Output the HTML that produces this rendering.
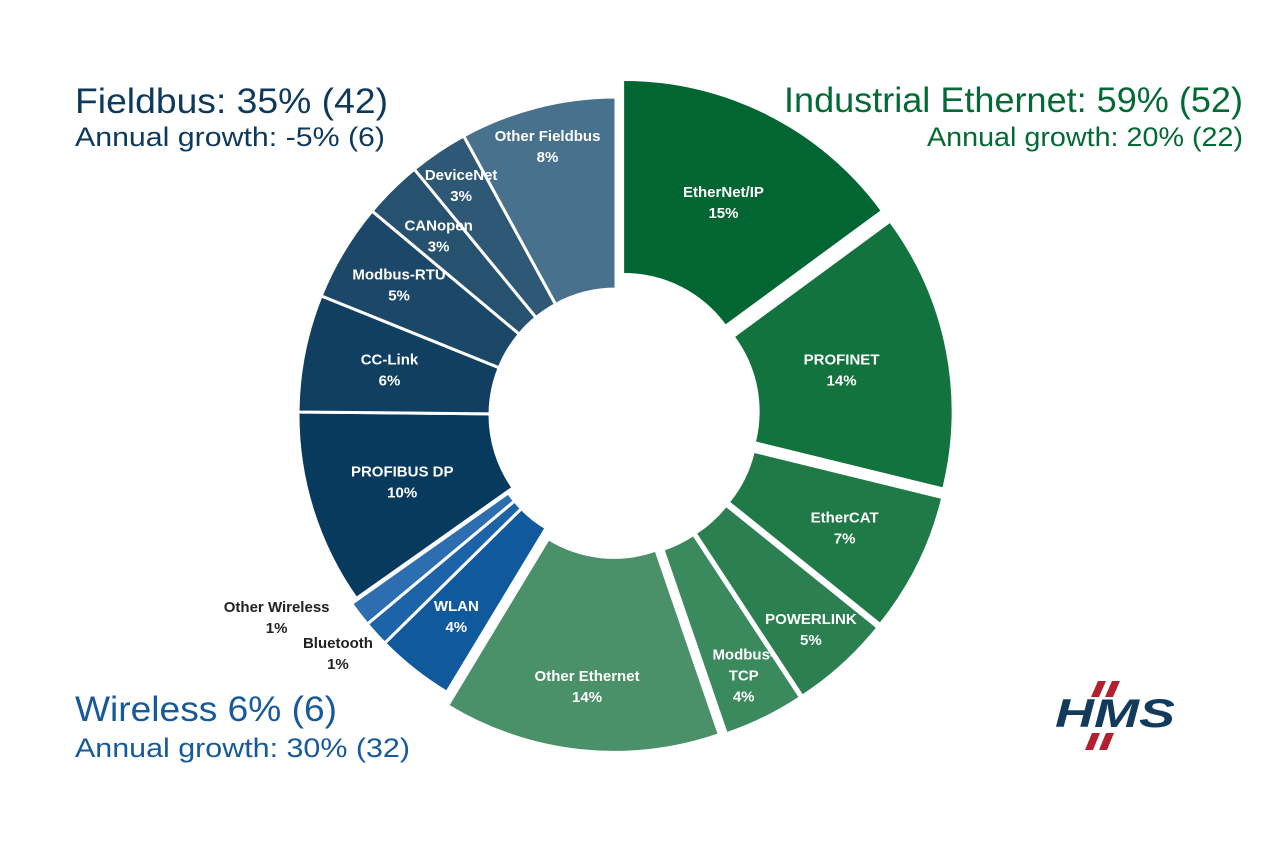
<!DOCTYPE html>
<html><head><meta charset="utf-8"><style>
html,body{margin:0;padding:0;background:#fff;}
svg{display:block;}
.t{font-family:"Liberation Sans Narrow","Liberation Sans",sans-serif;}
.lbl{font-family:"Liberation Sans",sans-serif;font-weight:bold;font-size:15px;}
</style></head><body>
<svg id="chart" width="1280" height="853" viewBox="0 0 1280 853">
<g>
<text class="t" x="75" y="113" font-size="35" fill="#0d3a5c" textLength="313" lengthAdjust="spacingAndGlyphs">Fieldbus: 35% (42)</text>
<text class="t" x="75" y="146" font-size="27" fill="#0d3a5c" textLength="310" lengthAdjust="spacingAndGlyphs">Annual growth: -5% (6)</text>
</g>
<g>
<text class="t" x="784" y="112" font-size="35" fill="#046a35" textLength="459" lengthAdjust="spacingAndGlyphs">Industrial Ethernet: 59% (52)</text>
<text class="t" x="927" y="146" font-size="27" fill="#046a35" textLength="316" lengthAdjust="spacingAndGlyphs">Annual growth: 20% (22)</text>
</g>
<g>
<text class="t" x="75" y="721" font-size="35" fill="#165a9c" textLength="262" lengthAdjust="spacingAndGlyphs">Wireless 6% (6)</text>
<text class="t" x="75" y="757" font-size="27" fill="#165a9c" textLength="335" lengthAdjust="spacingAndGlyphs">Annual growth: 30% (32)</text>
</g>
<g id="slices"></g>
<g id="labels"></g>
<g>
<polygon points="1098,681 1106,681 1099,697 1091,697" fill="#b3202e"/>
<polygon points="1112,681 1120,681 1113,697 1105,697" fill="#b3202e"/>
<polygon points="1092,733 1100,733 1093,750 1085,750" fill="#b3202e"/>
<polygon points="1106,733 1114,733 1107,750 1099,750" fill="#b3202e"/>
<text x="1055" y="727" font-family="Liberation Sans,sans-serif" font-weight="bold" font-style="italic" font-size="40" fill="#123a5a" textLength="120" lengthAdjust="spacingAndGlyphs">HMS</text>
</g>
</svg>
<script>
const names=["EtherNet/IP","PROFINET","EtherCAT","POWERLINK","Modbus-TCP","Other Ethernet","WLAN","Bluetooth","Other Wireless","PROFIBUS DP","CC-Link","Modbus-RTU","CANopen","DeviceNet","Other Fieldbus"];
const values=[15,14,7,5,4,14,4,1.3,1.3,10,6,5,3,3,8];
const pctLabels=["15%","14%","7%","5%","4%","14%","4%","1%","1%","10%","6%","5%","3%","3%","8%"];
const groups=["eth","eth","eth","eth","eth","eth","wl","wl","wl","fb","fb","fb","fb","fb","fb"];
const colors=["#026633","#13733e","#1f7a47","#2b7f50","#3a8a5d","#4a9169","#11599d","#1d63a7","#2c6eb0","#073a5d","#103f62","#1b4868","#26516f","#2f5877","#47718d"];
const labelRadius=[220,212,237,272,272,255,250,0,0,224,231,253,252,277,277];
const cx=616,cy=415,R=318,r=126;
const NS="http://www.w3.org/2000/svg";
const total=values.reduce((a,b)=>a+b,0);
function ang(v){return v/total*2*Math.PI;}
function pt(a,rad,ox,oy){return [ox+rad*Math.sin(a),oy-rad*Math.cos(a)];}
const sg=document.getElementById('slices'),lg=document.getElementById('labels');
let acc=0;
const wlStart=values.slice(0,6).reduce((a,b)=>a+b,0),wlEnd=wlStart+values[6]+values[7]+values[8];
const wlMid=ang((wlStart+wlEnd)/2);
values.forEach((v,i)=>{
  const a0=ang(acc),a1=ang(acc+v),am=(a0+a1)/2;acc+=v;
  let ox=cx,oy=cy;
  if(groups[i]==="eth"){ox+=18*Math.sin(am);oy-=18*Math.cos(am);}
  if(groups[i]==="wl"){ox+=7*Math.sin(wlMid);oy-=7*Math.cos(wlMid);}
  const p1=pt(a0,R,ox,oy),p2=pt(a1,R,ox,oy),p3=pt(a1,r,ox,oy),p4=pt(a0,r,ox,oy);
  const large=(a1-a0)>Math.PI?1:0;
  const path=document.createElementNS(NS,'path');
  path.setAttribute('d',`M${p1[0]},${p1[1]}A${R},${R} 0 ${large} 1 ${p2[0]},${p2[1]}L${p3[0]},${p3[1]}A${r},${r} 0 ${large} 0 ${p4[0]},${p4[1]}Z`);
  path.setAttribute('fill',colors[i]);
  path.setAttribute('stroke','#fff');
  path.setAttribute('stroke-width',groups[i]==="eth"?'0':'3');
  
  
  sg.appendChild(path);
  let lr=labelRadius[i],fill='#fff';
  let lp;
  if(v<2){
    fill='#222';
    lp=pt(am,R+(i===7?20:60),ox,oy);
    lp=[lp[0]+(i===7?-23:-35),lp[1]+(i===7?6:-33)];
  } else lp=pt(am,lr,ox,oy);
  const t=document.createElementNS(NS,'text');
  t.setAttribute('class','lbl');t.setAttribute('text-anchor','middle');t.setAttribute('fill',fill);
  
  
  let lines=names[i]==="Modbus-TCP"?["Modbus-","TCP",pctLabels[i]]:[names[i],pctLabels[i]];
  const y0=lp[1]-(lines.length-1)*10.5+5;
  lines.forEach((s,k)=>{const ts=document.createElementNS(NS,'tspan');ts.setAttribute('x',lp[0]);ts.setAttribute('y',y0+k*21);ts.textContent=s;t.appendChild(ts);});
  lg.appendChild(t);
});
</script>
</body></html>
